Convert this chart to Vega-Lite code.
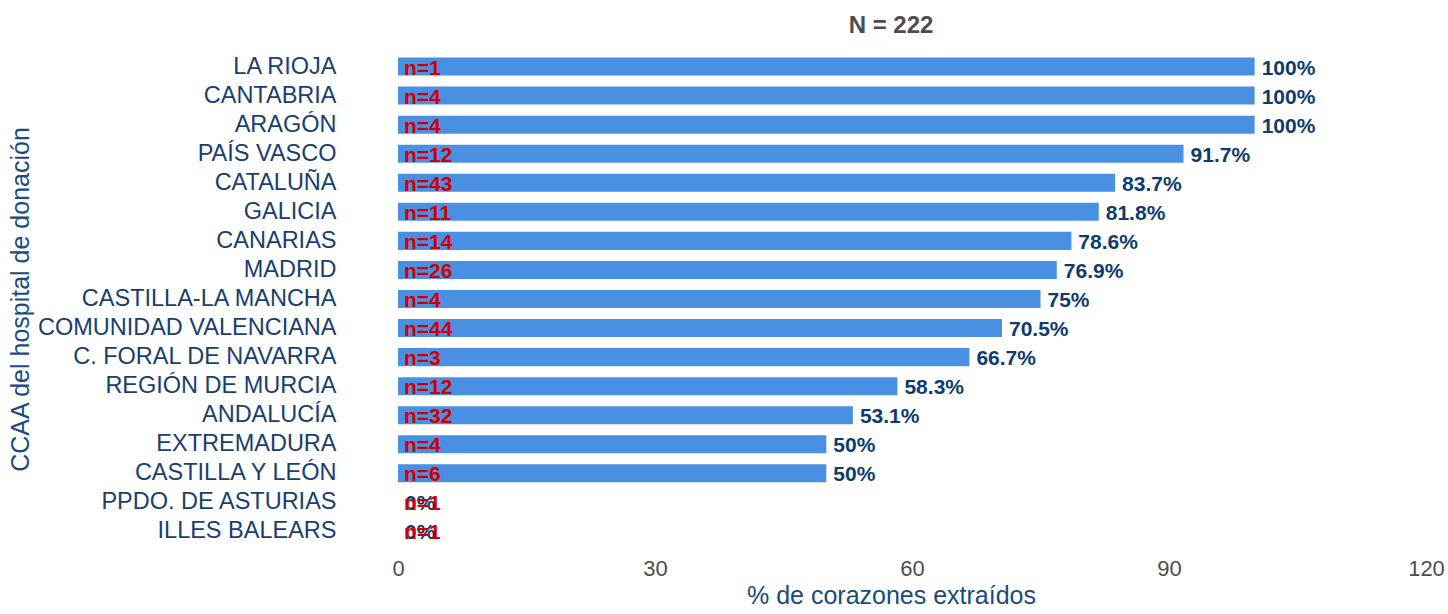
{
  "$schema": "https://vega.github.io/schema/vega-lite/v6.json",
  "width": 1028,
  "height": 494,
  "autosize": "none",
  "padding": {"left": 398, "top": 52, "right": 22, "bottom": 68},
  "background": "white",
  "config": {
    "font": "Liberation Sans",
    "view": {"stroke": null}
  },
  "title": {
    "text": "N = 222",
    "anchor": "middle",
    "dx": -21,
    "offset": 14,
    "fontSize": 24,
    "fontWeight": "bold",
    "color": "#4D4D4D",
    "font": "Liberation Sans"
  },
  "data": {
    "values": [
      {"ccaa": "LA RIOJA", "pct": 100, "pct_label": "100%", "n_label": "n=1"},
      {"ccaa": "CANTABRIA", "pct": 100, "pct_label": "100%", "n_label": "n=4"},
      {"ccaa": "ARAGÓN", "pct": 100, "pct_label": "100%", "n_label": "n=4"},
      {"ccaa": "PAÍS VASCO", "pct": 91.7, "pct_label": "91.7%", "n_label": "n=12"},
      {"ccaa": "CATALUÑA", "pct": 83.7, "pct_label": "83.7%", "n_label": "n=43"},
      {"ccaa": "GALICIA", "pct": 81.8, "pct_label": "81.8%", "n_label": "n=11"},
      {"ccaa": "CANARIAS", "pct": 78.6, "pct_label": "78.6%", "n_label": "n=14"},
      {"ccaa": "MADRID", "pct": 76.9, "pct_label": "76.9%", "n_label": "n=26"},
      {"ccaa": "CASTILLA-LA MANCHA", "pct": 75, "pct_label": "75%", "n_label": "n=4"},
      {"ccaa": "COMUNIDAD VALENCIANA", "pct": 70.5, "pct_label": "70.5%", "n_label": "n=44"},
      {"ccaa": "C. FORAL DE NAVARRA", "pct": 66.7, "pct_label": "66.7%", "n_label": "n=3"},
      {"ccaa": "REGIÓN DE MURCIA", "pct": 58.3, "pct_label": "58.3%", "n_label": "n=12"},
      {"ccaa": "ANDALUCÍA", "pct": 53.1, "pct_label": "53.1%", "n_label": "n=32"},
      {"ccaa": "EXTREMADURA", "pct": 50, "pct_label": "50%", "n_label": "n=4"},
      {"ccaa": "CASTILLA Y LEÓN", "pct": 50, "pct_label": "50%", "n_label": "n=6"},
      {"ccaa": "PPDO. DE ASTURIAS", "pct": 0, "pct_label": "0%", "n_label": "n=1"},
      {"ccaa": "ILLES BALEARS", "pct": 0, "pct_label": "0%", "n_label": "n=1"}
    ]
  },
  "encoding": {
    "y": {
      "field": "ccaa",
      "type": "nominal",
      "sort": null,
      "scale": {"paddingInner": 0.38, "paddingOuter": 0.19},
      "axis": {
        "title": "CCAA del hospital de donación",
        "titleFontSize": 25,
        "titleFontWeight": "normal",
        "titleColor": "#1A4A7E",
        "titleX": -378,
        "titleY": 247,
        "titleAngle": -90,
        "titleAlign": "center",
        "titleBaseline": "middle",
        "labelFontSize": 23.5,
        "labelColor": "#1A3E6E",
        "labelPadding": 62,
        "labelLimit": 0,
        "ticks": false,
        "domain": false,
        "grid": false
      }
    }
  },
  "layer": [
    {
      "mark": {"type": "bar", "color": "#4A90E2"},
      "encoding": {
        "x": {
          "field": "pct",
          "type": "quantitative",
          "scale": {"domain": [0, 120], "nice": false},
          "axis": {
            "values": [0, 30, 60, 90, 120],
            "title": "% de corazones extraídos",
            "titleFontSize": 25,
            "titleFontWeight": "normal",
            "titleColor": "#1A4A7E",
            "titleX": 493,
            "titlePadding": 4,
            "labelFontSize": 22,
            "labelColor": "#4D4D4D",
            "labelPadding": 12,
            "labelFlush": false,
            "ticks": false,
            "domain": false,
            "grid": false
          }
        }
      }
    },
    {
      "mark": {"type": "text", "align": "left", "baseline": "middle", "dx": 7, "dy": 2, "fontSize": 21, "fontWeight": "bold", "color": "#0D3B6E"},
      "encoding": {
        "x": {"field": "pct", "type": "quantitative"},
        "text": {"field": "pct_label"}
      }
    },
    {
      "mark": {"type": "text", "align": "left", "baseline": "middle", "dx": 6, "dy": 2, "fontSize": 21, "fontWeight": "bold", "color": "#D00000"},
      "encoding": {
        "x": {"datum": 0, "type": "quantitative"},
        "text": {"field": "n_label"}
      }
    }
  ]
}
